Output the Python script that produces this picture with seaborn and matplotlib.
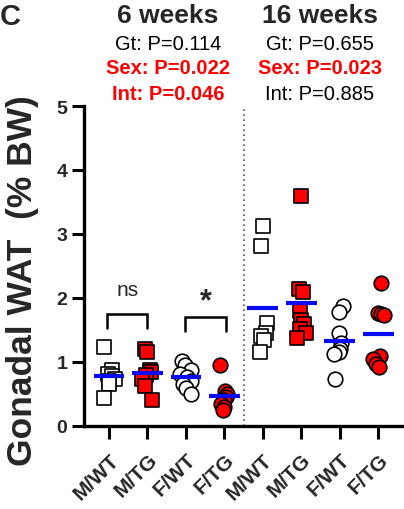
import numpy as np
import pandas as pd
import matplotlib
matplotlib.use("Agg")
import matplotlib.pyplot as plt
import seaborn as sns

# ---------------- data ----------------
categories = ["M/WT", "M/TG", "F/WT", "F/TG", "M/WT", "M/TG", "F/WT", "F/TG"]
group_keys = ["M/WT 6w", "M/TG 6w", "F/WT 6w", "F/TG 6w",
              "M/WT 16w", "M/TG 16w", "F/WT 16w", "F/TG 16w"]

mwt_6 = [1.23, 0.88, 0.82, 0.78, 0.74, 0.70, 0.66, 0.44]
mtg_6 = [1.20, 1.15, 0.88, 0.84, 0.80, 0.74, 0.62, 0.40]
fwt_6 = [1.02, 0.95, 0.88, 0.82, 0.76, 0.70, 0.66, 0.60, 0.50]
ftg_6 = [0.95, 0.55, 0.50, 0.45, 0.40, 0.35, 0.30, 0.25]
mwt_16 = [3.13, 2.81, 1.61, 1.45, 1.40, 1.35, 1.16]
mtg_16 = [3.59, 2.14, 2.10, 1.80, 1.66, 1.60, 1.52, 1.45, 1.38]
fwt_16 = [1.87, 1.78, 1.45, 1.30, 1.20, 1.16, 1.12, 0.73]
ftg_16 = [2.23, 1.77, 1.75, 1.73, 1.09, 1.05, 0.97, 0.92]

series = [mwt_6, mtg_6, fwt_6, ftg_6, mwt_16, mtg_16, fwt_16, ftg_16]

headers = ["6 weeks", "16 weeks"]
stats_left = ["Gt: P=0.114", "Sex: P=0.022", "Int: P=0.046"]
stats_right = ["Gt: P=0.655", "Sex: P=0.023", "Int: P=0.885"]
sig_left = [False, True, True]
sig_right = [False, True, False]

# ---------------- styles ----------------
RED = "#FF0000"
BLUE = "#0A0AF0"
markers = ["s", "s", "o", "o", "s", "s", "o", "o"]
fills = ["white", RED, "white", RED, "white", RED, "white", RED]

sns.set_theme(style="ticks")
plt.rcParams["font.family"] = ["Liberation Sans", "DejaVu Sans"]

df = pd.DataFrame({
    "grp": np.concatenate([[k] * len(v) for k, v in zip(group_keys, series)]),
    "val": np.concatenate(series),
})

W, H = 404, 510
fig = plt.figure(figsize=(W / 100, H / 100), dpi=100)
ax = fig.add_axes([84 / W, 83 / H, 318 / W, 320 / H])

np.random.seed(7)
for key, mk, fc in zip(group_keys, markers, fills):
    sub = df[df["grp"] == key]
    sns.stripplot(data=sub, x="grp", y="val", order=group_keys, marker=mk,
                  color=fc, edgecolor="black", linewidth=1.2, size=10.5,
                  jitter=0.16, ax=ax, zorder=3)

# mean lines
means = df.groupby("grp", sort=False)["val"].mean().reindex(group_keys).values
for i, m in enumerate(means):
    ax.hlines(m, i - 0.4, i + 0.4, color=BLUE, lw=3, zorder=4)

# divider
ax.axvline(3.5, ls=(0, (1, 2)), color="#555555", lw=1.2, zorder=1)

# brackets
def bracket(x1, x2, ytop, ybot, label, fs, weight, ytext):
    ax.plot([x1, x1, x2, x2], [ybot, ytop, ytop, ybot], color="black",
            lw=1.8, solid_joinstyle="miter", zorder=5, clip_on=False)
    ax.text((x1 + x2) / 2, ytext, label, ha="center", va="center",
            fontsize=fs, fontweight=weight)

bracket(-0.05, 1.0, 1.75, 1.53, "ns", 15, "normal", 2.13)
bracket(1.98, 3.05, 1.70, 1.48, "*", 22, "bold", 1.95)

ax.set_xlim(-0.65, 7.62)
ax.set_ylim(0, 5)
ax.set_yticks([0, 1, 2, 3, 4, 5])
ax.set_xticks(range(8))
ax.set_xticklabels(categories, rotation=45, ha="right",
                   rotation_mode="anchor", fontsize=15, fontweight="bold")
for lab in ax.get_yticklabels():
    lab.set_fontweight("bold")
    lab.set_fontsize(14)
ax.tick_params(axis="x", length=9, width=2.2, pad=8, color="black")
ax.tick_params(axis="y", length=9, width=2.2, pad=3, color="black")
ax.set_xlabel("")
ax.set_ylabel("")
for s in ["top", "right"]:
    ax.spines[s].set_visible(False)
for s in ["left", "bottom"]:
    ax.spines[s].set_linewidth(2.4)
    ax.spines[s].set_color("black")

fig.text(23 / W, 1 - 281 / H, "Gonadal WAT  (% BW)", rotation=90,
         ha="center", va="center", fontsize=25.5, fontweight="bold")

fig.text(10 / W, 1 - 17 / H, "C", ha="center", va="center",
         fontsize=21, fontweight="bold")

for cx, head, stats, sig in [(168, headers[0], stats_left, sig_left),
                             (320, headers[1], stats_right, sig_right)]:
    fig.text(cx / W, 1 - 16 / H, head, ha="center", va="center",
             fontsize=19, fontweight="bold")
    for j, (t, s) in enumerate(zip(stats, sig)):
        fig.text(cx / W, 1 - (44 + 25 * j) / H, t, ha="center", va="center",
                 fontsize=14.5, fontweight="bold" if s else "normal",
                 color=RED if s else "black")

fig.savefig("out.png", dpi=100)
